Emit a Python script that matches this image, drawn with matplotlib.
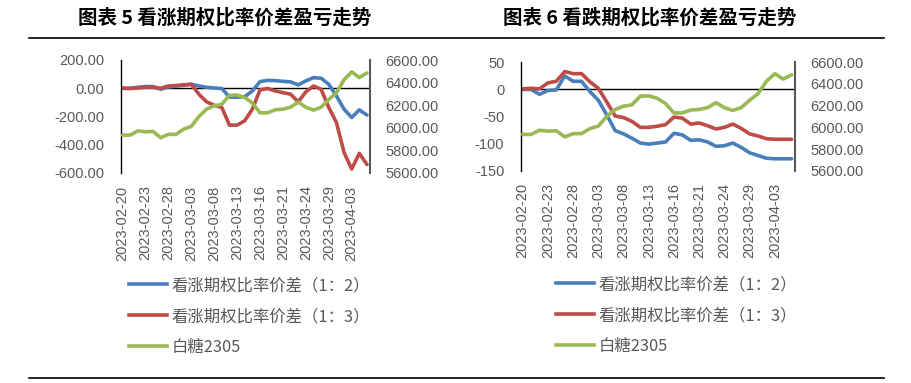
import matplotlib
matplotlib.use("Agg")
import matplotlib.pyplot as plt
from matplotlib.lines import Line2D

plt.rcParams['font.family'] = ['Liberation Sans', 'Noto Sans CJK SC', 'DejaVu Sans']

dates = ["2023-02-20", "2023-02-21", "2023-02-22", "2023-02-23", "2023-02-24", "2023-02-27",
         "2023-02-28", "2023-03-01", "2023-03-02", "2023-03-03", "2023-03-06", "2023-03-07",
         "2023-03-08", "2023-03-09", "2023-03-10", "2023-03-13", "2023-03-14", "2023-03-15",
         "2023-03-16", "2023-03-17", "2023-03-20", "2023-03-21", "2023-03-22", "2023-03-23",
         "2023-03-24", "2023-03-27", "2023-03-28", "2023-03-29", "2023-03-30", "2023-03-31",
         "2023-04-03", "2023-04-04", "2023-04-06"]

sugar2305 = [5935, 5935, 5973, 5965, 5968, 5912, 5942, 5942, 5988, 6012, 6100, 6165, 6195,
             6208, 6288, 6290, 6268, 6220, 6133, 6133, 6160, 6165, 6182, 6228, 6182, 6156,
             6182, 6250, 6310, 6425, 6495, 6445, 6485]

call_1_2 = [0, 0, 7, 12, 12, -7, 9, 16, 21, 28, 16, 7, 2, -2, -63, -63, -60, -19, 47, 56,
            54, 49, 45, 24, 52, 75, 71, 28, -54, -148, -207, -153, -190]
call_1_3 = [0, -2, 2, 7, 7, 0, 16, 19, 24, 28, -42, -96, -120, -136, -261, -261, -230, -148,
            -12, -2, -19, -31, -42, -96, -26, 16, -7, -136, -242, -454, -572, -461, -540]

put_1_2 = [0, 0, -9, -2, -1, 25, 15, 15, -4, -20, -47, -76, -82, -90, -99, -101, -99, -97,
           -81, -84, -94, -93, -97, -105, -104, -99, -107, -117, -122, -127, -128, -128, -128]
put_1_3 = [1, 2, 1, 12, 15, 33, 29, 29, 14, 2, -23, -49, -52, -59, -70, -70, -68, -65,
           -51, -53, -64, -62, -67, -73, -70, -64, -72, -82, -86, -91, -92, -92, -92]

titles = ["图表 5 看涨期权比率价差盈亏走势", "图表 6 看跌期权比率价差盈亏走势"]
labels = ["看涨期权比率价差（1：2）", "看涨期权比率价差（1：3）", "白糖2305"]

BLUE, RED, GREEN = "#4A7EBB", "#BE4B48", "#98B954"
TXT = "#595959"
W, H = 911, 383

fig = plt.figure(figsize=(W / 100, H / 100), dpi=100)


def box(x0, x1, ytop, ybot):
    return [x0 / W, 1 - ybot / H, (x1 - x0) / W, (ybot - ytop) / H]


def panel(rect, s1, s2, ylim, yticks, fmt, legx, legy):
    ax = fig.add_axes(rect)
    x = list(range(len(dates)))
    ax.plot(x, s1, color=BLUE, lw=2.6, solid_capstyle='round')
    ax.plot(x, s2, color=RED, lw=2.6, solid_capstyle='round')
    ax.axhline(0, color='black', lw=1.0, zorder=1)
    ax.set_ylim(*ylim)
    ax.set_yticks(yticks)
    ax.set_yticklabels([fmt(v) for v in yticks])
    ax.set_xlim(-0.2, len(dates) - 0.6)
    ax.set_xticks(x[::3])
    ax.set_xticklabels(dates[::3], rotation=90)
    for sp in ['top', 'bottom', 'right']:
        ax.spines[sp].set_visible(False)
    ax.spines['left'].set_color('black')
    ax.spines['left'].set_linewidth(1.0)
    ax.tick_params(axis='both', length=0, labelsize=10.5, colors=TXT)
    ax.tick_params(axis='y', pad=12)
    ax.tick_params(axis='x', pad=9)
    ax.patch.set_visible(False)

    ax2 = ax.twinx()
    ax2.plot(x, sugar2305, color=GREEN, lw=2.6, solid_capstyle='round')
    ax2.set_ylim(5600, 6600)
    rt = list(range(5600, 6601, 200))
    ax2.set_yticks(rt)
    ax2.set_yticklabels([f"{v:.2f}" for v in rt])
    for sp in ['top', 'bottom', 'left']:
        ax2.spines[sp].set_visible(False)
    ax2.spines['right'].set_color('#595959')
    ax2.spines['right'].set_linewidth(1.5)
    ax2.tick_params(axis='y', length=0, labelsize=10.5, colors=TXT, pad=11)

    handles = [Line2D([], [], color=c, lw=2.6) for c in (BLUE, RED, GREEN)]
    fig.legend(handles, labels, loc='upper left', bbox_to_anchor=(legx / W, 1 - legy / H),
               frameon=False, handlelength=2.3, handletextpad=0.3, labelspacing=0.85,
               borderpad=0, borderaxespad=0,
               prop={'family': ['Noto Sans CJK SC', 'DejaVu Sans'], 'size': 11.8},
               labelcolor=TXT)
    return ax


panel(box(121, 370, 60, 173), call_1_2, call_1_3, (-600, 200),
      [-600, -400, -200, 0, 200], lambda v: f"{v:.2f}", 129, 277)
panel(box(521, 795, 62.3, 170.7), put_1_2, put_1_3, (-150, 50),
      [-150, -100, -50, 0, 50], lambda v: f"{v:d}", 556, 276)

tfont = {'family': ['Noto Sans CJK SC', 'DejaVu Sans'], 'size': 14, 'weight': 'bold'}
fig.text(78 / W, 1 - 18 / H, titles[0], ha='left', va='center', fontdict=tfont)
fig.text(503 / W, 1 - 18 / H, titles[1], ha='left', va='center', fontdict=tfont)

fig.add_artist(Line2D([29 / W, 884 / W], [1 - 38 / H, 1 - 38 / H], color='black', lw=1.2))
fig.add_artist(Line2D([29 / W, 884 / W], [1 - 378 / H, 1 - 378 / H], color='black', lw=1.2))

fig.savefig("out.png", dpi=100)
